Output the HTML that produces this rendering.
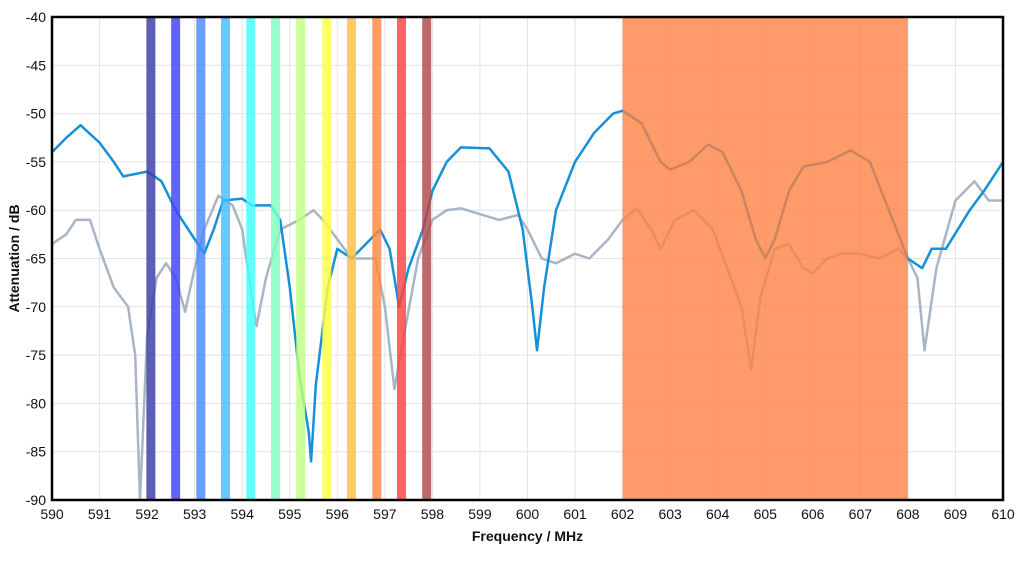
<!DOCTYPE html>
<html><head><meta charset="utf-8"><style>
body{margin:0;background:#fff;width:1024px;height:576px;overflow:hidden}
text{font-family:"Liberation Sans",Arial,sans-serif}
</style></head><body>
<svg id="s" width="1024" height="576" xmlns="http://www.w3.org/2000/svg"></svg>
<script>
const L=52,R=1003,T=17,B=500;
const X=f=>L+(f-590)*(R-L)/20, Y=d=>T+(-40-d)*(B-T)/50;
let h='';
for(let f=590;f<=610;f++){const x=X(f);h+=`<line x1="${x}" y1="${T}" x2="${x}" y2="${B}" stroke="#e4e4e4" stroke-width="1"/>`;
h+=`<text x="${x}" y="${B+19}" font-size="14" text-anchor="middle" fill="#111">${f}</text>`;}
for(let d=-40;d>=-90;d-=5){const y=Y(d);h+=`<line x1="${L}" y1="${y}" x2="${R}" y2="${y}" stroke="#e4e4e4" stroke-width="1"/>`;
h+=`<text x="46" y="${y+5}" font-size="14" text-anchor="end" fill="#111">${d}</text>`;}
function path(pts,col,w){let d='';pts.forEach((p,i)=>{d+=(i?'L':'M')+X(p[0]).toFixed(1)+','+Y(p[1]).toFixed(1)});return `<path d="${d}" fill="none" stroke="${col}" stroke-width="${w}" stroke-linejoin="round"/>`;}
const gray=[[590,-63.5],[590.3,-62.5],[590.5,-61],[590.8,-61],[591,-64],[591.3,-68],[591.6,-70],[591.75,-75],[591.85,-90],[592,-73],[592.2,-67],[592.4,-65.5],[592.6,-67],[592.8,-70.5],[593,-66],[593.2,-62],[593.5,-58.5],[593.8,-59.5],[594,-62],[594.2,-69],[594.3,-72],[594.5,-67],[594.8,-62],[595.2,-61],[595.5,-60],[595.7,-61],[596,-63],[596.3,-65],[596.8,-65],[597,-70],[597.2,-78.5],[597.4,-73],[597.7,-65],[598,-61],[598.3,-60],[598.6,-59.8],[599.4,-61],[599.8,-60.5],[600,-62],[600.3,-65],[600.6,-65.5],[601,-64.5],[601.3,-65],[601.7,-63],[602,-61],[602.3,-59.8],[602.6,-62],[602.8,-64],[603.1,-61],[603.5,-60],[603.9,-62],[604.2,-66],[604.5,-70],[604.7,-76.5],[604.9,-69],[605.2,-64],[605.5,-63.5],[605.8,-66],[606,-66.5],[606.3,-65],[606.6,-64.5],[607,-64.5],[607.4,-65],[607.8,-64],[608,-65],[608.2,-67],[608.35,-74.5],[608.6,-66],[609,-59],[609.4,-57],[609.7,-59],[610,-59]];
const blue=[[590,-54],[590.3,-52.5],[590.6,-51.2],[591,-53],[591.3,-55],[591.5,-56.5],[592,-56],[592.3,-57],[592.6,-60],[593,-63],[593.2,-64.5],[593.4,-62],[593.6,-59],[594,-58.8],[594.2,-59.5],[594.6,-59.5],[594.8,-61],[595,-68],[595.2,-77],[595.4,-83],[595.45,-86],[595.55,-78],[595.8,-68],[596,-64],[596.3,-65],[596.6,-63.5],[596.9,-62],[597.1,-64],[597.3,-70],[597.5,-66],[597.8,-62],[598,-58],[598.3,-55],[598.6,-53.5],[599.2,-53.6],[599.6,-56],[599.9,-62],[600.1,-70],[600.2,-74.5],[600.35,-68],[600.6,-60],[601,-55],[601.4,-52],[601.8,-50],[602,-49.7],[602.4,-51],[602.8,-55],[603,-55.8],[603.4,-55],[603.8,-53.2],[604.1,-54],[604.5,-58],[604.8,-63],[605,-65],[605.2,-63],[605.5,-58],[605.8,-55.5],[606.3,-55],[606.8,-53.8],[607.2,-55],[607.6,-60],[608,-65],[608.3,-66],[608.5,-64],[608.8,-64],[609.3,-60],[609.6,-58],[610,-55]];
h+=path(gray,'#a9b5c4',2.5)+path(blue,'#1690d8',2.5);
const bands=[[592.08,'#3a3aa8'],[592.6,'#4040ff'],[593.13,'#4a86ff'],[593.65,'#40c0ff'],[594.18,'#40ffff'],[594.7,'#80ffc0'],[595.23,'#c0ff80'],[595.78,'#ffff40'],[596.3,'#ffc040'],[596.83,'#ff8840'],[597.35,'#ff4040'],[597.88,'#b04848']];
bands.forEach(b=>{h+=`<rect x="${X(b[0])-4.5}" y="${T}" width="9" height="${B-T}" fill="${b[1]}" opacity="0.82"/>`;});
h+=`<rect x="${X(602)}" y="${T}" width="${X(608)-X(602)}" height="${B-T}" fill="#ff7f40" opacity="0.78"/>`;
h+=`<rect x="${L}" y="${T}" width="${R-L}" height="${B-T}" fill="none" stroke="#000" stroke-width="2.5"/>`;
h+=`<text x="${(L+R)/2}" y="541" font-size="14" font-weight="bold" text-anchor="middle" fill="#111">Frequency / MHz</text>`;
h+=`<text transform="translate(19,${(T+B)/2}) rotate(-90)" font-size="14" font-weight="bold" text-anchor="middle" fill="#111">Attenuation / dB</text>`;
document.getElementById('s').innerHTML=h;
</script>
</body></html>
